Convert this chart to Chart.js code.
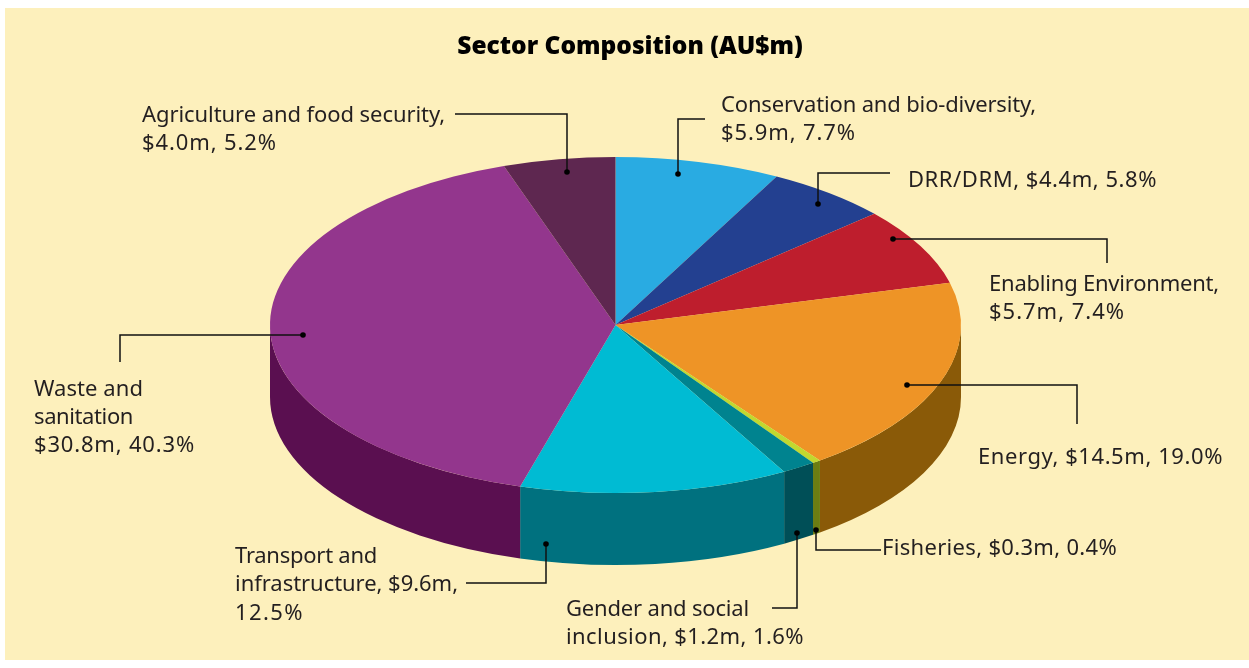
<!DOCTYPE html>
<html><head><meta charset="utf-8">
<style>html,body{margin:0;padding:0;background:#fff}#w{width:1249px;height:668px}canvas{display:block}</style>
<script src="https://cdn.jsdelivr.net/npm/chart.js@4/dist/chart.umd.min.js"></script>
</head><body><div id="w"><canvas id="c" width="1249" height="668"></canvas></div>
<script>
const sectors=["Conservation and bio-diversity","DRR/DRM","Enabling Environment","Energy","Fisheries","Gender and social inclusion","Transport and infrastructure","Waste and sanitation","Agriculture and food security"];
const valuesAUDm=[5.9,4.4,5.7,14.5,0.3,1.2,9.6,30.8,4.0];
const topColors=["#29ABE2","#234090","#BE1E2D","#EE9426","#C1D82F","#00838F","#00BBD3","#93368D","#5E2750"];
const sideColors=["#1A7FA8","#182C66","#8A1520","#8A5A08","#6C7D12","#004F57","#00717F","#5A0F50","#3E1836"];
const chartTitle="Sector Composition (AU$m)";
const labelLines=[
 ["Conservation and bio-diversity,","$5.9m, 7.7%"],
 ["DRR/DRM, $4.4m, 5.8%"],
 ["Enabling Environment,","$5.7m, 7.4%"],
 ["Energy, $14.5m, 19.0%"],
 ["Fisheries, $0.3m, 0.4%"],
 ["Gender and social","inclusion, $1.2m, 1.6%"],
 ["Transport and","infrastructure, $9.6m,","12.5%"],
 ["Waste and","sanitation","$30.8m, 40.3%"],
 ["Agriculture and food security,","$4.0m, 5.2%"]
];
const labelAnchors=[[721,112],[908,187],[989,291],[978,464],[882,554.5],[566,616],[235,563],[34,395.5],[142,121.5]];
const labelFitWidths=[[315,135],[249],[230,136],[245],[235],[183,238],[142,223,69],[109,99,161],[303,135]];
const leaders=[
 [[705,119],[678,119],[678,174]],
 [[890,173],[818,173],[818,204]],
 [[1107,263],[1107,239],[893,239]],
 [[1077,424],[1077,385],[907,385]],
 [[881,550],[816,550],[816,530]],
 [[772,608],[797,608],[797,533]],
 [[466,583],[546,583],[546,544]],
 [[120,362],[120,335],[303,335]],
 [[455,114],[567,114],[567,172]]
];
const pie={cx:615.5,cy:325,rx:345.5,ry:168,depth:72};
const panel={x:5,y:8,w:1244,h:652,color:"#FDF0BC"};
const ink="#231F20";
const labelFont="22px 'Noto Sans'";

const pie3d={
 id:"pie3d",
 beforeDraw(ch){const c=ch.ctx;c.save();c.fillStyle=panel.color;c.fillRect(panel.x,panel.y,panel.w,panel.h);c.restore();},
 beforeDatasetsDraw(ch){
  const c=ch.ctx,arcs=ch.getDatasetMeta(0).data;
  arcs.forEach((a,i)=>{
   let s=Math.max(a.startAngle,0),e=Math.min(a.endAngle,Math.PI);
   if(e<=s)return;
   c.save();c.fillStyle=sideColors[i];c.beginPath();
   c.ellipse(pie.cx,pie.cy,pie.rx,pie.ry,0,s,e);
   c.ellipse(pie.cx,pie.cy+pie.depth,pie.rx,pie.ry,0,e,s,true);
   c.closePath();c.fill();c.restore();
  });
  const a=arcs[0],sx=pie.rx/a.outerRadius,sy=pie.ry/a.outerRadius;
  c.save();c.translate(pie.cx,pie.cy);c.scale(sx,sy);c.translate(-a.x,-a.y);
 },
 afterDatasetsDraw(ch){
  const c=ch.ctx;c.restore();
  c.save();c.strokeStyle="#111";c.fillStyle="#000";c.lineWidth=1.5;
  leaders.forEach(p=>{
   c.beginPath();p.forEach((q,i)=>i?c.lineTo(q[0],q[1]):c.moveTo(q[0],q[1]));c.stroke();
   const d=p[p.length-1];c.beginPath();c.arc(d[0],d[1],2.8,0,Math.PI*2);c.fill();
  });
  c.fillStyle=ink;c.font=labelFont;c.textBaseline="alphabetic";c.textAlign="left";
  labelLines.forEach((ls,i)=>ls.forEach((t,j)=>{
   c.letterSpacing="0px";
   const extra=(labelFitWidths[i][j]-c.measureText(t).width)/t.length;
   c.letterSpacing=extra.toFixed(3)+"px";
   c.fillText(t,labelAnchors[i][0],labelAnchors[i][1]+j*28.4);
  }));
  c.restore();
 }
};
new Chart(document.getElementById("c"),{
 type:"pie",
 data:{labels:sectors,datasets:[{data:valuesAUDm,backgroundColor:topColors,borderWidth:0,hoverOffset:0}]},
 options:{responsive:false,animation:false,devicePixelRatio:1,
  layout:{padding:{left:11}},
  events:[],
  plugins:{legend:{display:false},tooltip:{enabled:false},
   title:{display:true,text:chartTitle,color:"#000",font:{family:"'Open Sans'",size:24.5,weight:"800"},padding:{top:32,bottom:10}}}},
 plugins:[pie3d]
});
</script></body></html>
